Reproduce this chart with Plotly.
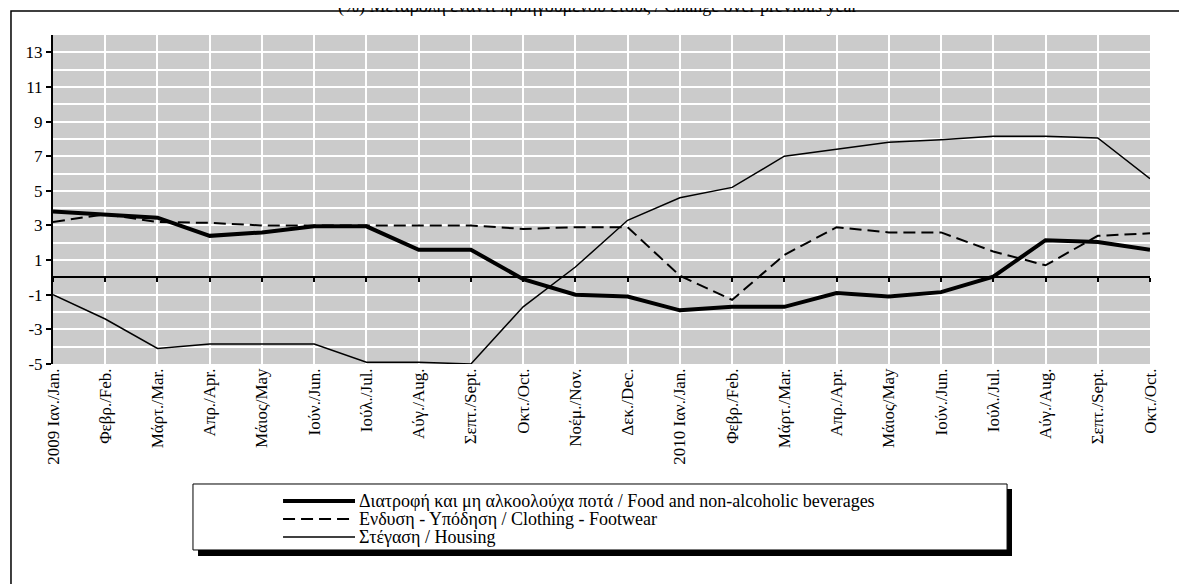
import plotly.graph_objects as go

months = ["2009 Ιαν./Jan.", "Φεβρ./Feb.", "Μάρτ./Mar.", "Απρ./Apr.", "Μάιος/May", "Ιούν./Jun.",
          "Ιούλ./Jul.", "Αύγ./Aug.", "Σεπτ./Sept.", "Οκτ./Oct.", "Νοέμ./Nov.", "Δεκ./Dec.",
          "2010 Ιαν./Jan.", "Φεβρ./Feb.", "Μάρτ./Mar.", "Απρ./Apr.", "Μάιος/May", "Ιούν./Jun.",
          "Ιούλ./Jul.", "Αύγ./Aug.", "Σεπτ./Sept.", "Οκτ./Oct."]

food = [3.8, 3.65, 3.45, 2.4, 2.6, 2.95, 2.95, 1.6, 1.6, -0.1, -1.0, -1.1,
        -1.9, -1.7, -1.7, -0.9, -1.1, -0.85, 0.05, 2.15, 2.05, 1.6]
clothing = [3.2, 3.65, 3.2, 3.15, 3.0, 3.0, 3.0, 3.0, 3.0, 2.8, 2.9, 2.9,
            0.1, -1.3, 1.3, 2.9, 2.6, 2.6, 1.5, 0.7, 2.4, 2.55]
housing = [-1.0, -2.4, -4.1, -3.85, -3.85, -3.85, -4.9, -4.9, -5.0, -1.7, 0.6, 3.3,
           4.6, 5.2, 7.0, 7.4, 7.8, 7.95, 8.15, 8.15, 8.05, 5.7]

y_ticks = [-5, -3, -1, 1, 3, 5, 7, 9, 11, 13]

names = ["Διατροφή και μη αλκοολούχα ποτά / Food and non-alcoholic beverages",
         "Ενδυση - Υπόδηση / Clothing - Footwear",
         "Στέγαση / Housing"]
title_text = "(%) Μεταβολή έναντι προηγούμενου έτους / Change over previous year"

x = list(range(len(months)))
serif = "Liberation Serif, Times New Roman, serif"

styles = [dict(color="black", width=4),
          dict(color="black", width=2, dash="12px,6px"),
          dict(color="black", width=1.5)]

fig = go.Figure()
fig.add_trace(go.Scatter(x=x, y=food, mode="lines", name=names[0], line=styles[0]))
fig.add_trace(go.Scatter(x=x, y=clothing, mode="lines", name=names[1], line=styles[1]))
fig.add_trace(go.Scatter(x=x, y=housing, mode="lines", name=names[2], xaxis="x2", line=styles[2]))

ymin, ymax = -5, 14
zero_pos = (0 - ymin) / (ymax - ymin)

shapes = [
    # outer frame
    dict(type="rect", xref="paper", yref="paper", x0=-0.0383, x1=1.2, y0=-1.0, y1=1.073,
         line=dict(color="black", width=1.5), layer="below"),
    # legend shadow and box
    dict(type="rect", xref="paper", yref="paper", x0=0.1322, x1=0.8742, y0=-0.5836, y1=-0.38,
         fillcolor="black", line=dict(width=0)),
    dict(type="rect", xref="paper", yref="paper", x0=0.1276, x1=0.8697, y0=-0.5653, y1=-0.3647,
         fillcolor="white", line=dict(color="black", width=1)),
]
annotations = [
    dict(text=title_text, xref="paper", yref="paper", x=0.497, y=1.05,
         xanchor="center", yanchor="bottom", showarrow=False,
         font=dict(family=serif, size=18, color="black")),
]

# hand-drawn legend rows (tight line spacing like the original)
row_y = [-0.4164, -0.4711, -0.5258]
for name, st, ry in zip(names, styles, row_y):
    shapes.append(dict(type="line", xref="paper", yref="paper", x0=0.2097, x1=0.2753,
                       y0=ry, y1=ry, line=st))
    annotations.append(dict(text=name, xref="paper", yref="paper", x=0.2771, y=ry,
                            xanchor="left", yanchor="middle", showarrow=False,
                            font=dict(family=serif, size=18, color="black")))

fig.update_layout(
    width=1179, height=576,
    margin=dict(l=45, r=37, t=27, b=220),
    paper_bgcolor="white",
    plot_bgcolor="#cbcbcb",
    font=dict(family=serif, size=16, color="black"),
    showlegend=False,
    xaxis=dict(range=[0, len(months) - 1], tickvals=x, ticktext=months,
               tickangle=-90, showline=False, ticks="", zeroline=False,
               showgrid=True, gridcolor="white", gridwidth=1.5,
               tickfont=dict(size=17)),
    xaxis2=dict(overlaying="x", matches="x", anchor="free", position=zero_pos,
                showline=True, linecolor="black", linewidth=2,
                ticks="outside", ticklen=4, tickwidth=1.5, tickcolor="black",
                tickmode="linear", tick0=0, dtick=1,
                showticklabels=False, showgrid=False, zeroline=False),
    yaxis=dict(range=[ymin, ymax], tickvals=y_ticks, ticktext=[str(v) for v in y_ticks],
               showline=True, linecolor="black", linewidth=2,
               ticks="outside", ticklen=5, tickwidth=1.5, tickcolor="black",
               zeroline=False, showgrid=True, gridcolor="white", gridwidth=1.5,
               minor=dict(dtick=1, tick0=0, showgrid=True, gridcolor="white", gridwidth=1.5),
               tickfont=dict(size=17)),
    shapes=shapes,
    annotations=annotations,
)

fig.write_html("out.html")
